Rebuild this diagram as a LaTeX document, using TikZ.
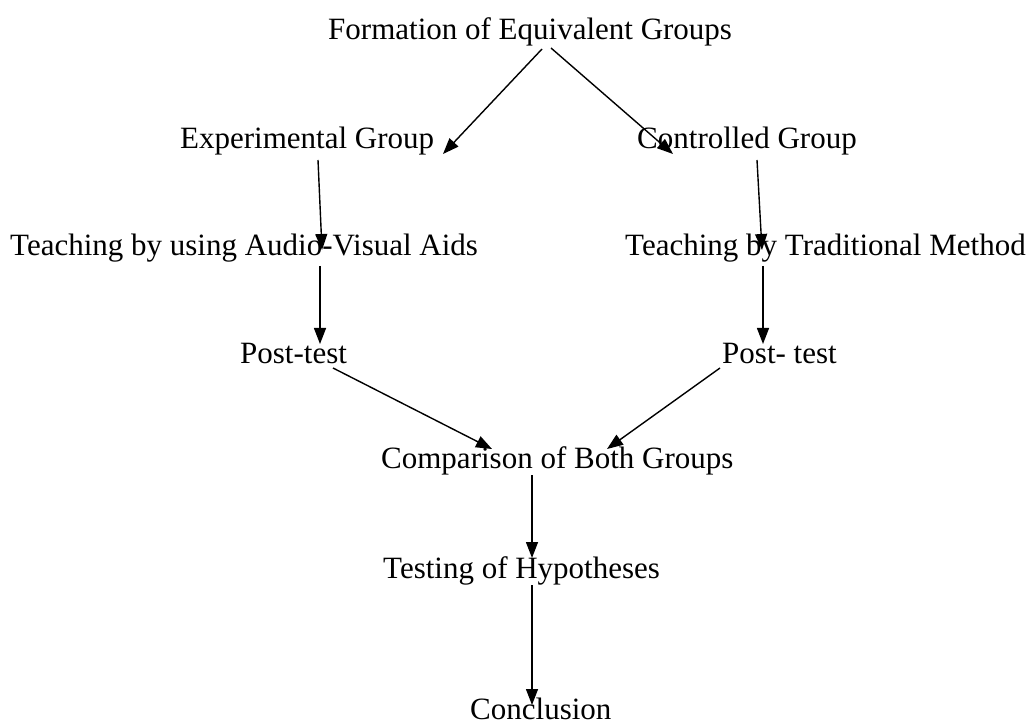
\documentclass[tikz,border=0pt]{standalone}
\usepackage{fontspec}
\setmainfont{Liberation Serif}
\usetikzlibrary{arrows.meta}
\begin{document}
\begin{tikzpicture}[x=1pt,y=-1pt,
  lbl/.style={anchor=base west,inner sep=0pt,font=\fontsize{31}{36}\selectfont},
  arr/.style={line width=1.4pt,-{Triangle[length=16pt,width=12pt]}}]
\useasboundingbox (0,0) rectangle (1029,722);
\node[lbl] (form) at (328,40) {Formation of Equivalent Groups};
\node[lbl] (exp) at (180,149) {Experimental Group};
\node[lbl] (ctl) at (637,149) {Controlled Group};
\node[lbl] (tav) at (10,256) {Teaching by using Audio-Visual Aids};
\node[lbl] (ttm) at (625,256) {Teaching by Traditional Method};
\node[lbl] (pt1) at (240,363) {Post-test};
\node[lbl] (pt2) at (722,363) {Post- test};
\node[lbl] (cmp) at (381,468) {Comparison of Both Groups};
\node[lbl] (tst) at (383,578) {Testing of Hypotheses};
\node[lbl] (con) at (470,719) {Conclusion};
% connector end points
\coordinate (f1) at (542,49);  \coordinate (e1) at (443,154);
\coordinate (f2) at (551,48);  \coordinate (c1) at (673,154);
\coordinate (e2) at (318,160); \coordinate (t1) at (322,250);
\coordinate (c2) at (757,160); \coordinate (t2) at (762,250);
\coordinate (t3) at (320,266); \coordinate (p1) at (320,344);
\coordinate (t4) at (763,266); \coordinate (p2) at (763,344);
\coordinate (p3) at (333,368); \coordinate (m1) at (492,449);
\coordinate (p4) at (720,368); \coordinate (m2) at (607,449);
\coordinate (m3) at (532,475); \coordinate (s1) at (532,558);
\coordinate (s2) at (532,585); \coordinate (n1) at (532,705);
\draw[arr] (f1) -- (e1);
\draw[arr] (f2) -- (c1);
\draw[arr] (e2) -- (t1);
\draw[arr] (c2) -- (t2);
\draw[arr] (t3) -- (p1);
\draw[arr] (t4) -- (p2);
\draw[arr] (p3) -- (m1);
\draw[arr] (p4) -- (m2);
\draw[arr] (m3) -- (s1);
\draw[arr] (s2) -- (n1);
\end{tikzpicture}
\end{document}
